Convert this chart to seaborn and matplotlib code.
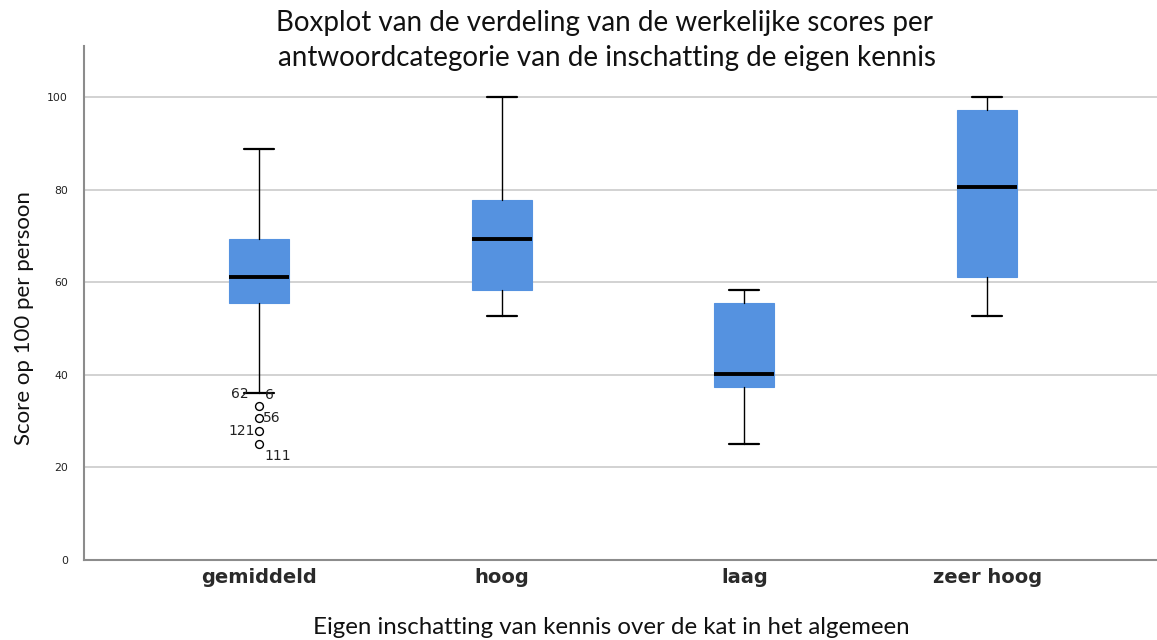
import matplotlib
matplotlib.use("Agg")
import matplotlib.pyplot as plt
import seaborn as sns
import pandas as pd

# ---- data ----
categories = ["gemiddeld", "hoog", "laag", "zeer hoog"]
whisker_low = [36.1, 52.8, 25.0, 52.8]
q1 = [55.6, 58.3, 37.5, 61.1]
median = [61.1, 69.4, 40.3, 80.6]
q3 = [69.4, 77.8, 55.6, 97.2]
whisker_high = [88.9, 100.0, 58.3, 100.0]

outlier_category = ["gemiddeld", "gemiddeld", "gemiddeld", "gemiddeld"]
outlier_values = [33.3, 30.6, 27.8, 25.0]
outlier_labels = [["62", "6"], ["56"], ["121"], ["111"]]

yticks = [0, 20, 40, 60, 80, 100]

title_lines = ["Boxplot van de verdeling van de werkelijke scores per",
               "antwoordcategorie van de inschatting de eigen kennis"]
xlabel = "Eigen inschatting van kennis over de kat in het algemeen"
ylabel = "Score op 100 per persoon"

# ---- style ----
sns.set_theme(style="white")
plt.rcParams["font.family"] = ["DejaVu Sans"]

BOX_COLOR = "#5592E0"

fig = plt.figure(figsize=(11.57, 6.40), dpi=100)
ax = fig.add_axes([84 / 1157, 80 / 640, 1 - 84 / 1157, (560 - 46) / 640])

stats = []
for i, c in enumerate(categories):
    stats.append(dict(label=c, whislo=whisker_low[i], q1=q1[i], med=median[i],
                      q3=q3[i], whishi=whisker_high[i], fliers=[]))
positions = list(range(len(categories)))

ax.bxp(stats, positions=positions, widths=0.247, capwidths=0.124,
       patch_artist=True, showfliers=False, manage_ticks=False,
       boxprops=dict(facecolor=BOX_COLOR, edgecolor=BOX_COLOR, linewidth=0.8),
       medianprops=dict(color="black", linewidth=2.8, solid_capstyle="butt"),
       whiskerprops=dict(color="black", linewidth=1.0),
       capprops=dict(color="black", linewidth=1.6),
       zorder=3)

# outliers drawn through seaborn on the categorical positions
cat_index = {c: i for i, c in enumerate(categories)}
odf = pd.DataFrame({"x": [cat_index[c] for c in outlier_category],
                    "y": outlier_values})
sns.scatterplot(data=odf, x="x", y="y", ax=ax, marker="o", s=32,
                facecolor="white", edgecolor="black", linewidth=1.0, zorder=4,
                legend=False)

# outlier case labels
label_offsets = [[(-10, 12, "right"), (6, 11, "left")],
                 [(4, 0, "left")],
                 [(-4, 0, "right")],
                 [(5, -12, "left")]]
for xi_cat, yv, labs, offs in zip(outlier_category, outlier_values,
                                  outlier_labels, label_offsets):
    xi = cat_index[xi_cat]
    for lab, (dx, dy, ha) in zip(labs, offs):
        ax.annotate(lab, (xi, yv), xytext=(dx, dy), textcoords="offset pixels",
                    ha=ha, va="center", fontsize=10, color="#222222", zorder=5)

ax.set_xlim(-0.721, 3.70)
ax.set_ylim(0, 111.1)
ax.set_yticks(yticks)
ax.set_yticklabels([str(t) for t in yticks], fontsize=7.8, color="#222222")
ax.set_xticks(positions)
ax.set_xticklabels(categories, fontsize=14, fontweight="bold", color="#2A2A2A")
ax.tick_params(axis="y", length=0, pad=11.5)
ax.tick_params(axis="x", length=0, pad=6)
ax.set_xlabel("")
ax.set_ylabel("")

ax.yaxis.grid(True, color="#D2D2D2", linewidth=1.4, zorder=0)
ax.xaxis.grid(False)
ax.set_axisbelow(True)
sns.despine(ax=ax, top=True, right=True)
for s in ["left", "bottom"]:
    ax.spines[s].set_color("#8C8C8C")
    ax.spines[s].set_linewidth(1.5)

# titles and axis labels
fig.text(605 / 1157, 1 - 23 / 640, title_lines[0], ha="center", va="center",
         fontsize=20, family=["Lato", "DejaVu Sans"], color="#111111")
fig.text(607 / 1157, 1 - 58 / 640, title_lines[1], ha="center", va="center",
         fontsize=20, family=["Lato", "DejaVu Sans"], color="#111111")
fig.text(611 / 1157, 1 - 627 / 640, xlabel, ha="center", va="center",
         fontsize=17.3, family=["Lato", "DejaVu Sans"], color="#111111")
fig.text(24 / 1157, 1 - 318 / 640, ylabel, ha="center", va="center",
         rotation=90, fontsize=16, family=["Lato", "DejaVu Sans"], color="#111111")

fig.savefig("out.png", dpi=100)
